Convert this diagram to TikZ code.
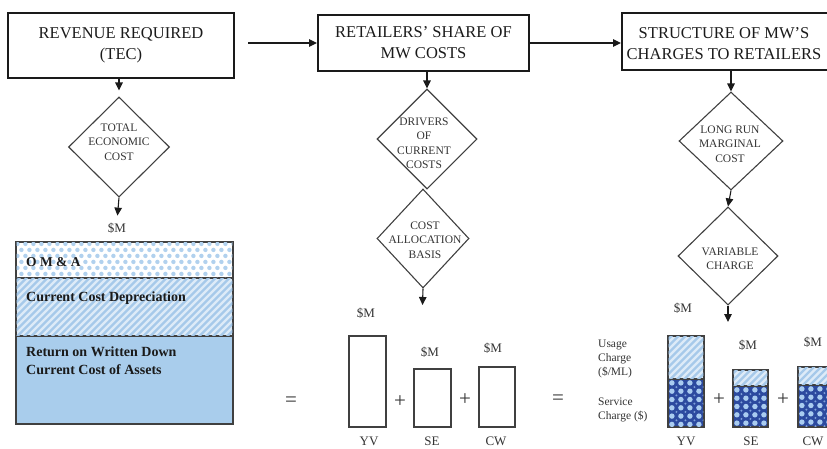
\documentclass[tikz,border=0pt]{standalone}
\usepackage{fontspec}
\setmainfont{Liberation Serif}
\usetikzlibrary{shapes.geometric,arrows.meta}

\definecolor{ink}{HTML}{1A1A1A}
\definecolor{diaink}{HTML}{333333}
\definecolor{lineg}{HTML}{404040}
\definecolor{pale}{HTML}{DDEBF8}
\definecolor{midblue}{HTML}{A9CDEC}
\definecolor{stripe}{HTML}{A6C9EA}
\definecolor{omadot}{HTML}{B1D1EE}
\definecolor{navy}{HTML}{2C4A9F}
\definecolor{dotblue}{HTML}{A9CCF0}
\definecolor{dotsmall}{HTML}{7E9FDA}

% diagonal hatching inside a node (kept clear of the outline)
\newcommand\hatchnode[1]{%
  \begin{scope}
    \clip ([shift={(1.2pt,1.2pt)}]#1.south west) rectangle ([shift={(-1.2pt,-1.2pt)}]#1.north east);
    \foreach \k in {-190,-183,...,190}
      \draw[stripe, line width=2.3pt]
        ([shift={(\k pt-100pt,-100pt)}]#1.center) -- ([shift={(\k pt+100pt,100pt)}]#1.center);
  \end{scope}}

% light dots on the dark service-charge segments
\newcommand\navydots[1]{%
  \begin{scope}
    \clip ([shift={(1.2pt,1.2pt)}]#1.south west) rectangle ([shift={(-1.2pt,-1.2pt)}]#1.north east);
    \foreach \c in {0,...,5}{\foreach \r in {0,...,6}{
      \fill[dotblue] ([shift={(4.5pt+9pt*\c,-4.5pt-8.3pt*\r)}]#1.north west) circle (2.7pt);
      \fill[dotsmall] ([shift={(9pt+9pt*\c,-8.65pt-8.3pt*\r)}]#1.north west) circle (1.1pt);}}
  \end{scope}}

% staggered dots for the O M & A band
\newcommand\omadots[1]{%
  \begin{scope}
    \clip ([shift={(1.2pt,1.2pt)}]#1.south west) rectangle ([shift={(-1.2pt,-1.2pt)}]#1.north east);
    \foreach \r in {0,...,6}{\foreach \c in {0,...,28}{
      \pgfmathsetmacro\off{mod(\r,2)*4}
      \fill[omadot] ([shift={(\off pt+2pt+8pt*\c,-2.5pt-6pt*\r)}]#1.north west) circle (2.2pt);}}
  \end{scope}}

\begin{document}
\begin{tikzpicture}[x=1pt,y=-1pt,
  headbox/.style={draw=ink, line width=2pt, inner sep=0pt, align=center,
    font=\fontsize{16.5}{21}\selectfont, text=ink},
  headtext/.style={inner sep=0pt, align=center, font=\fontsize{16.5}{21}\selectfont, text=ink},
  dia/.style={diamond, draw=lineg, line width=1.1pt, inner sep=0pt},
  diatext/.style={inner sep=0pt, align=center, font=\fontsize{11.5}{14.5}\selectfont, text=diaink},
  flow/.style={-{Triangle[length=8pt,width=7.5pt]}, line width=1.1pt, draw=ink},
  money/.style={inner sep=1pt, font=\fontsize{13}{15}\selectfont, text=diaink},
  barname/.style={money, inner sep=0pt},
  op/.style={inner sep=0pt, font=\fontsize{21}{23}\selectfont, text=diaink},
  seg/.style={draw=lineg, line width=1.2pt, inner sep=0pt},
  segtext/.style={inner sep=0pt, anchor=west, align=left, text=ink, font=\bfseries},
  sidetext/.style={inner sep=0pt, anchor=west, align=left, text=diaink,
    font=\fontsize{11.5}{14}\selectfont},
]
\useasboundingbox (0,0) rectangle (827,448);
\clip (0,0) rectangle (827,448);

% ---- header boxes ----
\node[headbox, minimum width=226pt, minimum height=65pt] (box1) at (121,45.5)
  {REVENUE REQUIRED\\(TEC)};
\node[headbox, minimum width=211pt, minimum height=56pt] (box2) at (423.5,43)
  {RETAILERS' SHARE OF\\MW COSTS};
\node[headbox, minimum width=222pt, minimum height=57pt] (box3) at (733,41.5) {};
\node[headtext] (box3t) at (724,44) {STRUCTURE OF MW'S\\CHARGES TO RETAILERS};

\coordinate (a12) at ([xshift=13pt]box1.east);
\draw[flow] (a12 |- box2.west) -- (box2.west);
\draw[flow] (box2.east) -- (box2.east -| box3.west);

% ---- decision diamonds ----
\node[dia, minimum width=101pt, minimum height=100pt] (d1) at (119,147) {};
\node[diatext] (d1t) at (119,142) {TOTAL\\ECONOMIC\\COST};

\node[dia, minimum width=100pt, minimum height=100pt] (d2) at (427,139) {};
\node[diatext] (d2t) at (424,143) {DRIVERS\\OF\\CURRENT\\COSTS};
\node[dia, minimum width=92pt, minimum height=99pt] (d3) at (423,238.5) {};
\node[diatext] (d3t) at (425,240) {COST\\ALLOCATION\\BASIS};

\node[dia, minimum width=104pt, minimum height=98pt] (d4) at (731,141) {};
\node[diatext] (d4t) at (730,144) {LONG RUN\\MARGINAL\\COST};
\node[dia, minimum width=100pt, minimum height=98pt] (d5) at (728,256) {};
\node[diatext] (d5t) at (730,259) {VARIABLE\\CHARGE};

\draw[flow, shorten >=6pt] (d1.north |- box1.south) -- (d1.north);
\draw[flow] (d2.north |- box2.south) -- (d2.north);
\draw[flow] (d4.north |- box3.south) -- (d4.north);
\draw[flow] (d4.south) -- (d5.north);

% ---- total economic cost stack ----
\node[money] (sm1) at (117,228) {\$M};
\draw[flow, shorten >=6pt] (d1.south) -- (sm1.north);

\node[seg, fill=white,   minimum width=217pt, minimum height=36pt] (oma) at (124.5,260) {};
\node[seg, fill=pale,    minimum width=217pt, minimum height=58pt] (ccd) at (124.5,307) {};
\node[seg, fill=midblue, minimum width=217pt, minimum height=88pt] (ret) at (124.5,380) {};
\omadots{oma}
\hatchnode{ccd}
\node[segtext, font=\fontsize{13.5}{16}\selectfont\bfseries] (omat) at (26,262) {O M \& A};
\node[segtext, font=\fontsize{14}{18}\selectfont\bfseries] (ccdt) at (26,298) {Current Cost Depreciation};
\node[segtext, font=\fontsize{14}{18}\selectfont\bfseries] (rett) at (26,361)
  {Return on Written Down\\Current Cost of Assets};

\node[op] (eq1) at (291,402) {=};

% ---- retailers' shares ----
\coordinate (m3) at (422.5,305);
\draw[flow] (d3.south) -- (m3);

\node[seg, fill=white, minimum width=37pt, minimum height=91pt] (yv) at (367.5,381.5) {};
\node[seg, fill=white, minimum width=37pt, minimum height=58pt] (se) at (432.5,398) {};
\node[seg, fill=white, minimum width=36pt, minimum height=60pt] (cw) at (497,397) {};
\node[money] (smyv) at (366,313) {\$M};
\node[money] (smse) at (430,352) {\$M};
\node[money] (smcw) at (493,348) {\$M};
\node[barname] (lyv) at (369,441.5) {YV};
\node[barname] (lse) at (432,441.5) {SE};
\node[barname] (lcw) at (496,441.5) {CW};
\node[op] (pl1) at (400,402) {+};
\node[op] (pl2) at (465,400) {+};

\node[op] (eq2) at (558,400) {=};

% ---- charge structure ----
\coordinate (m5) at (728,322);
\draw[flow] (d5.south) -- (m5);
\node[money] (smr) at (683,308) {\$M};

\node[sidetext] (usage) at (598,359) {Usage\\Charge\\(\$/ML)};
\node[sidetext] (service) at (598,409.5) {Service\\Charge (\$)};

\node[seg, fill=pale, minimum width=36pt, minimum height=43pt] (ryvU) at (686,357.5) {};
\node[seg, fill=navy, minimum width=36pt, minimum height=48pt] (ryvS) at (686,403) {};
\node[seg, fill=pale, minimum width=35pt, minimum height=16pt] (rseU) at (750.5,378) {};
\node[seg, fill=navy, minimum width=35pt, minimum height=41pt] (rseS) at (750.5,406.5) {};
\node[seg, fill=pale, minimum width=44pt, minimum height=18pt] (rcwU) at (820,376) {};
\node[seg, fill=navy, minimum width=44pt, minimum height=42pt] (rcwS) at (820,406) {};
\hatchnode{ryvU}
\hatchnode{rseU}
\hatchnode{rcwU}
\navydots{ryvS}
\navydots{rseS}
\navydots{rcwS}

\node[money] (smrse) at (748,345) {\$M};
\node[money] (smrcw) at (813,342) {\$M};
\node[barname] (lryv) at (686,441.5) {YV};
\node[barname] (lrse) at (751,441.5) {SE};
\node[barname] (lrcw) at (813,441.5) {CW};
\node[op] (pl3) at (719,400) {+};
\node[op] (pl4) at (783,400) {+};
\end{tikzpicture}
\end{document}
